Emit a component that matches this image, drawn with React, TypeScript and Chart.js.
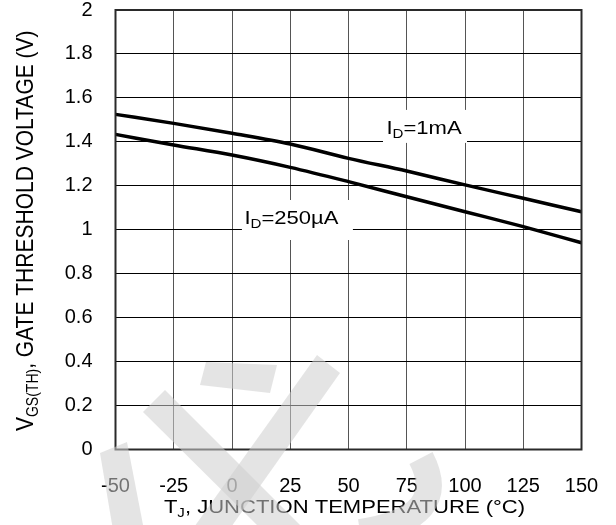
import React, { useEffect, useRef } from "react";
import { Chart, registerables } from "chart.js";

Chart.register(...registerables);

// Junction temperature (°C)
const temperatures = [-50, -25, 0, 25, 50, 75, 100, 125, 150];
// Gate threshold voltage (V) at ID = 1 mA
const vthAt1mA = [1.525, 1.484, 1.439, 1.39, 1.325, 1.267, 1.204, 1.143, 1.082];
// Gate threshold voltage (V) at ID = 250 µA
const vthAt250uA = [1.434, 1.386, 1.34, 1.284, 1.219, 1.15, 1.082, 1.014, 0.941];

const xTickValues = [-50, -25, 0, 25, 50, 75, 100, 125, 150];
const yTickValues = [0, 0.2, 0.4, 0.6, 0.8, 1, 1.2, 1.4, 1.6, 1.8, 2];

const FONT = '"Liberation Sans", Arial, sans-serif';
const TICK_SIZE = 20;
const SUB_RATIO = 0.68;
const WIDE = 1.16; // horizontal stretch applied to annotation text

type Part = { t: string; sub?: boolean };

function partsWidth(ctx: CanvasRenderingContext2D, parts: Part[], size: number) {
  let w = 0;
  for (const p of parts) {
    ctx.font = `${p.sub ? Math.round(size * SUB_RATIO) : size}px ${FONT}`;
    w += ctx.measureText(p.t).width;
  }
  return w;
}

// draws text with subscripts, starting at x, baseline y
function drawParts(ctx: CanvasRenderingContext2D, parts: Part[], x: number, y: number, size: number) {
  let cx = x;
  ctx.textBaseline = "alphabetic";
  ctx.textAlign = "left";
  for (const p of parts) {
    ctx.font = `${p.sub ? Math.round(size * SUB_RATIO) : size}px ${FONT}`;
    ctx.fillText(p.t, cx, p.sub ? y + size * 0.22 : y);
    cx += ctx.measureText(p.t).width;
  }
}

const curveLabels = [
  { parts: [{ t: "I" }, { t: "D", sub: true }, { t: "=1mA" }], x: 82.4, y: 1.468, box: [-41, 43, -17, 16] },
  { parts: [{ t: "I" }, { t: "D", sub: true }, { t: "=250\u00b5A" }], x: 25.5, y: 1.058, box: [-49.5, 61.5, -17, 23] },
];

const yTitle: Part[] = [{ t: "V" }, { t: "GS(TH)", sub: true }, { t: ", GATE THRESHOLD VOLTAGE (V)" }];
const xTitle: Part[] = [{ t: "T" }, { t: "J", sub: true }, { t: ", JUNCTION TEMPERATURE (\u00b0C)" }];

const decorPlugin = {
  id: "decor",
  beforeDatasetsDraw(chart: any) {
    const ctx: CanvasRenderingContext2D = chart.ctx;
    const xs = chart.scales.x;
    const ys = chart.scales.y;
    for (const lab of curveLabels) {
      const cx = xs.getPixelForValue(lab.x);
      const cy = ys.getPixelForValue(lab.y);
      const [l, r, t, b] = lab.box;
      ctx.save();
      ctx.fillStyle = "#ffffff";
      ctx.fillRect(cx + l, cy + t, r - l, b - t);
      const w = partsWidth(ctx, lab.parts, 19);
      ctx.translate(cx, cy + 7);
      ctx.scale(WIDE, 1);
      ctx.fillStyle = "#000000";
      drawParts(ctx, lab.parts, -w / 2, 0, 19);
      ctx.restore();
    }
  },
  afterDraw(chart: any) {
    const ctx: CanvasRenderingContext2D = chart.ctx;
    const a = chart.chartArea;
    ctx.save();
    // plot frame
    ctx.strokeStyle = "#2a2a2a";
    ctx.lineWidth = 2;
    ctx.strokeRect(a.left, a.top, a.right - a.left, a.bottom - a.top);
    ctx.restore();

    // axis titles
    ctx.save();
    ctx.fillStyle = "#000000";
    const xw = partsWidth(ctx, xTitle, 19);
    ctx.translate((a.left + a.right) / 2 - 4, 513);
    ctx.scale(WIDE, 1);
    drawParts(ctx, xTitle, -xw / 2, 0, 19);
    ctx.restore();

    ctx.save();
    ctx.fillStyle = "#000000";
    const yw = partsWidth(ctx, yTitle, 21);
    ctx.translate(33, (a.top + a.bottom) / 2 + 1);
    ctx.rotate(-Math.PI / 2);
    ctx.scale(1, 1.18);
    drawParts(ctx, yTitle, -yw / 2, 0, 21);
    ctx.restore();

    // faint watermark strokes
    ctx.save();
    ctx.fillStyle = "rgba(205,205,205,0.55)";
    ctx.strokeStyle = "rgba(205,205,205,0.55)";
    ctx.lineCap = "butt";
    ctx.beginPath();
    ctx.moveTo(143, 412);
    ctx.lineTo(165, 390);
    ctx.lineTo(305, 530);
    ctx.lineTo(262, 530);
    ctx.closePath();
    ctx.fill();
    ctx.beginPath();
    ctx.moveTo(317, 355);
    ctx.lineTo(340, 373);
    ctx.lineTo(229, 530);
    ctx.lineTo(192, 530);
    ctx.closePath();
    ctx.fill();
    ctx.beginPath();
    ctx.moveTo(206, 362);
    ctx.lineTo(277, 365);
    ctx.lineTo(270, 393);
    ctx.lineTo(200, 385);
    ctx.closePath();
    ctx.fill();
    ctx.beginPath();
    ctx.moveTo(100, 453);
    ctx.lineTo(127, 442);
    ctx.lineTo(144, 530);
    ctx.lineTo(113, 530);
    ctx.closePath();
    ctx.fill();
    ctx.lineWidth = 26;
    ctx.beginPath();
    ctx.moveTo(421, 458);
    ctx.quadraticCurveTo(452, 518, 360, 532);
    ctx.stroke();
    ctx.restore();
  },
};

export default function App() {
  const ref = useRef<HTMLCanvasElement>(null);

  useEffect(() => {
    if (!ref.current) return;
    const chart = new Chart(ref.current, {
      type: "line",
      data: {
        datasets: [
          {
            label: "ID=1mA",
            data: temperatures.map((t, i) => ({ x: t, y: vthAt1mA[i] })),
            borderColor: "#000000",
            borderWidth: 3.5,
            pointRadius: 0,
            cubicInterpolationMode: "monotone",
            fill: false,
          },
          {
            label: "ID=250uA",
            data: temperatures.map((t, i) => ({ x: t, y: vthAt250uA[i] })),
            borderColor: "#000000",
            borderWidth: 3.5,
            pointRadius: 0,
            cubicInterpolationMode: "monotone",
            fill: false,
          },
        ],
      },
      options: {
        animation: false,
        responsive: false,
        maintainAspectRatio: false,
        layout: { padding: { left: 0, right: 34.5, top: 10, bottom: 0 } },
        plugins: { legend: { display: false }, tooltip: { enabled: false }, title: { display: false } },
        scales: {
          x: {
            type: "linear",
            min: -50,
            max: 150,
            afterBuildTicks: (s: any) => {
              s.ticks = xTickValues.map((v) => ({ value: v }));
            },
            afterFit: (s: any) => {
              s.height = 75.5;
              s.paddingLeft = 0;
              s.paddingRight = 0;
            },
            grid: { color: "#555555", lineWidth: 1, drawTicks: false },
            border: { display: false },
            ticks: {
              color: "#000000",
              font: { family: FONT, size: TICK_SIZE },
              padding: 25,
              maxRotation: 0,
              autoSkip: false,
            },
          },
          y: {
            type: "linear",
            min: 0,
            max: 2,
            afterBuildTicks: (s: any) => {
              s.ticks = yTickValues.map((v) => ({ value: v }));
            },
            afterFit: (s: any) => {
              s.width = 115.5;
              s.paddingTop = 0;
              s.paddingBottom = 0;
            },
            grid: { color: "#000000", lineWidth: 1, drawTicks: false },
            border: { display: false },
            ticks: {
              color: "#000000",
              font: { family: FONT, size: TICK_SIZE },
              padding: 23,
              autoSkip: false,
              callback: (v: any) => String(Number(Number(v).toFixed(1))),
            },
          },
        },
      },
      plugins: [decorPlugin],
    });
    return () => chart.destroy();
  }, []);

  return (
    <div style={{ position: "absolute", left: 0, top: 0, width: 616, height: 525, background: "#ffffff" }}>
      <canvas ref={ref} width={616} height={525} />
    </div>
  );
}
